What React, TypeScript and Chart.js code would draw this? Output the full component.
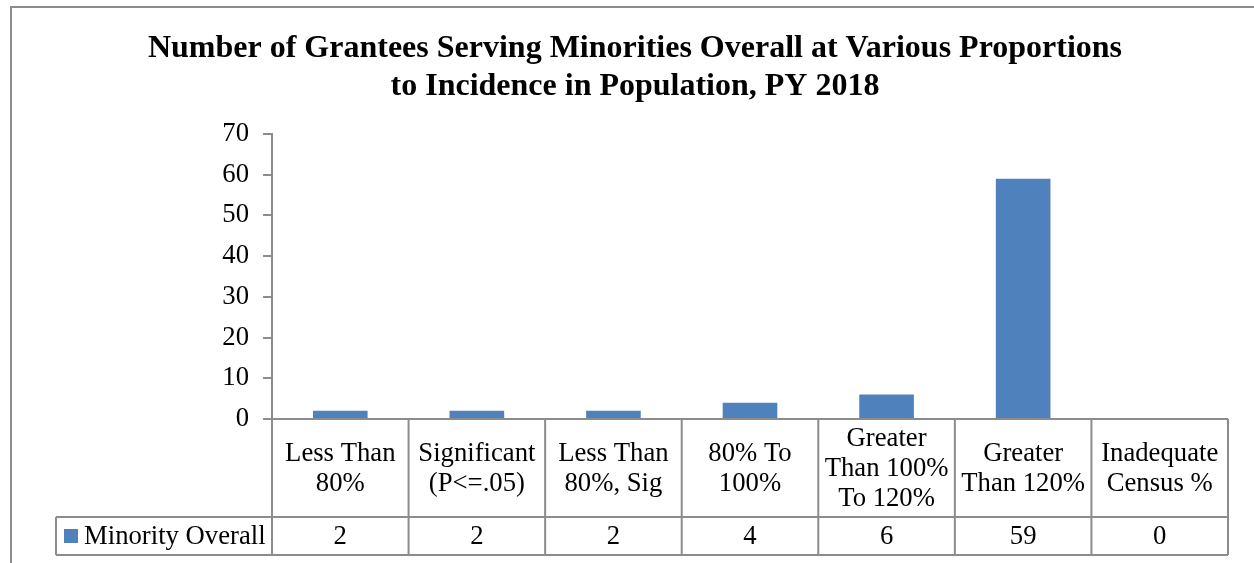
import React, { useEffect, useRef } from "react";
import { Chart, registerables } from "chart.js";

Chart.register(...registerables);

const titleLines: string[] = [
  "Number of Grantees Serving Minorities Overall at Various Proportions",
  "to Incidence in Population, PY 2018",
];
const categories: string[][] = [
  ["Less Than", "80%"],
  ["Significant", "(P<=.05)"],
  ["Less Than", "80%, Sig"],
  ["80% To", "100%"],
  ["Greater", "Than 100%", "To 120%"],
  ["Greater", "Than 120%"],
  ["Inadequate", "Census %"],
];
const seriesName = "Minority Overall";
const seriesValues: number[] = [2, 2, 2, 4, 6, 59, 0];
const yTicks = { min: 0, max: 70, step: 10 };

const SERIF = "'Liberation Serif', 'Times New Roman', serif";
const BAR = "#4F81BD";
const LINE = "#8c8c8c";
const BODY_SIZE = 26.7;

const tablePlugin = {
  id: "excelTable",
  afterDraw(chart: any) {
    const ctx = chart.ctx as CanvasRenderingContext2D;
    const area = chart.chartArea;
    const xs = chart.scales.x;
    const n = categories.length;
    const cw = (area.right - area.left) / n;
    const rowTop = area.bottom;
    const rowMid = 517;
    const rowBot = 555;
    const legendLeft = 56;
    ctx.save();
    // outer frame
    ctx.strokeStyle = LINE;
    ctx.lineWidth = 2;
    ctx.beginPath();
    ctx.moveTo(11, chart.height);
    ctx.lineTo(11, 7);
    ctx.lineTo(chart.width, 7);
    ctx.stroke();

    // title
    ctx.fillStyle = "#000";
    ctx.font = "bold 32px " + SERIF;
    ctx.textAlign = "center";
    ctx.textBaseline = "alphabetic";
    ctx.fillText(titleLines[0], 635, 57);
    ctx.fillText(titleLines[1], 635, 95);

    // table grid
    ctx.strokeStyle = LINE;
    ctx.lineWidth = 2;
    ctx.beginPath();
    ctx.moveTo(area.left, rowTop);
    ctx.lineTo(area.right, rowTop);
    ctx.moveTo(legendLeft, rowMid);
    ctx.lineTo(area.right, rowMid);
    ctx.moveTo(legendLeft, rowBot);
    ctx.lineTo(area.right, rowBot);
    ctx.moveTo(legendLeft, rowMid);
    ctx.lineTo(legendLeft, rowBot);
    for (let i = 0; i <= n; i++) {
      const x = i < n ? xs.getPixelForValue(i) - cw / 2 : xs.getPixelForValue(n - 1) + cw / 2;
      ctx.moveTo(x, i === 0 ? area.top : rowTop);
      ctx.lineTo(x, rowBot);
    }
    ctx.stroke();

    // category labels and values
    ctx.font = BODY_SIZE + "px " + SERIF;
    ctx.fillStyle = "#000";
    ctx.textAlign = "center";
    ctx.textBaseline = "middle";
    const lh = 30;
    const catMid = (rowTop + rowMid) / 2 + 1;
    const valMid = (rowMid + rowBot) / 2 + 1;
    for (let i = 0; i < n; i++) {
      const cx = xs.getPixelForValue(i);
      const lines = categories[i];
      const start = catMid - ((lines.length - 1) * lh) / 2;
      lines.forEach((t, k) => ctx.fillText(t, cx, start + k * lh));
      ctx.fillText(String(seriesValues[i]), cx, valMid);
    }
    // legend key
    ctx.fillStyle = BAR;
    ctx.fillRect(64, valMid - 8, 14, 14);
    ctx.fillStyle = "#000";
    ctx.textAlign = "left";
    ctx.fillText(seriesName, 84, valMid);
    ctx.restore();
  },
};

export default function App() {
  const ref = useRef<HTMLCanvasElement | null>(null);
  useEffect(() => {
    if (!ref.current) return;
    const chart = new Chart(ref.current, {
      type: "bar",
      data: {
        labels: categories.map((c) => c.join(" ")),
        datasets: [
          {
            label: seriesName,
            data: seriesValues,
            backgroundColor: BAR,
            borderWidth: 0,
            categoryPercentage: 1,
            barPercentage: 0.4,
          },
        ],
      },
      options: {
        animation: false,
        responsive: false,
        events: [],
        layout: { padding: { top: 134, right: 26, left: 0, bottom: 0 } },
        plugins: {
          legend: { display: false },
          title: { display: false },
          tooltip: { enabled: false },
        },
        scales: {
          x: {
            ticks: { display: false },
            grid: { display: false },
            border: { display: false },
            afterFit: (s: any) => {
              s.height = 144;
            },
          },
          y: {
            min: yTicks.min,
            max: yTicks.max,
            ticks: {
              stepSize: yTicks.step,
              color: "#000",
              font: { family: SERIF, size: BODY_SIZE },
              padding: 14,
            },
            grid: {
              drawOnChartArea: false,
              drawTicks: true,
              tickLength: 9,
              color: LINE,
              lineWidth: 2,
            },
            border: { display: true, color: LINE, width: 2 },
            afterFit: (s: any) => {
              s.width = 272;
            },
          },
        },
      },
      plugins: [tablePlugin],
    });
    return () => chart.destroy();
  }, []);
  return (
    <div style={{ position: "fixed", left: 0, top: 0, width: 1254, height: 563, background: "#fff" }}>
      <canvas ref={ref} width={1254} height={563} style={{ display: "block" }} />
    </div>
  );
}
